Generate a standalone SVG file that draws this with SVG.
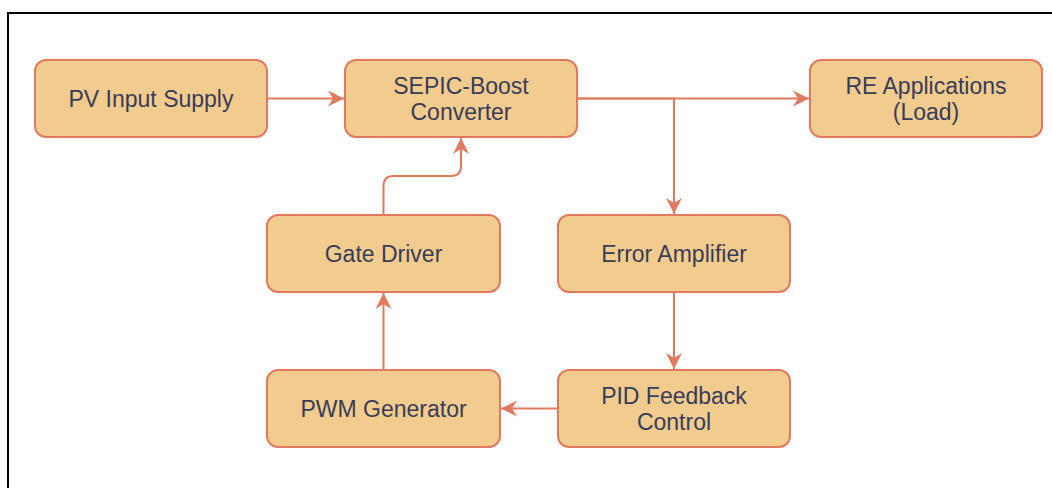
<svg xmlns="http://www.w3.org/2000/svg" width="1052" height="488" viewBox="0 0 1052 488">
  <style>
    .box { fill: #F2CC8F; stroke: #E07A5F; stroke-width: 2; }
    .lbl { font-family: "Liberation Sans", Arial, Helvetica, sans-serif; font-size: 23px; fill: #393C56; text-anchor: middle; }
    .edge { fill: none; stroke: #E07A5F; stroke-width: 2; marker-end: url(#arrow); }
  </style>
  <defs>
    <marker id="arrow" viewBox="-17 -9 18 18" refX="0" refY="0" markerWidth="18" markerHeight="18" markerUnits="userSpaceOnUse" orient="auto">
      <path d="M0,0 L-16,-8 L-11,0 L-16,8 Z" fill="#E07A5F"/>
    </marker>
  </defs>
  <rect x="0" y="0" width="1052" height="488" fill="#ffffff"/>
  <path d="M8,488 L8,13 L1052,13" fill="none" stroke="#000000" stroke-width="2"/>

  <g id="connectors">
    <path class="edge" d="M267,98.5 L344,98.5"/>
    <path class="edge" d="M577,98.5 L809,98.5"/>
    <path class="edge" d="M577,98.5 L674,98.5 L674,214"/>
    <path class="edge" d="M674,292 L674,369"/>
    <path class="edge" d="M558,408.5 L501,408.5"/>
    <path class="edge" d="M383.5,370 L383.5,293"/>
    <path class="edge" d="M383.5,215 L383.5,186 Q383.5,176 393.5,176 L451,176 Q461,176 461,166 L461,138"/>
  </g>

  <g id="pv-input">
    <rect class="box" x="35" y="60" width="232" height="77" rx="11"/>
    <text class="lbl" x="151" y="107">PV Input Supply</text>
  </g>
  <g id="sepic">
    <rect class="box" x="345" y="60" width="232" height="77" rx="11"/>
    <text class="lbl" x="461" y="93.5">SEPIC-Boost</text>
    <text class="lbl" x="461" y="119.5">Converter</text>
  </g>
  <g id="re-load">
    <rect class="box" x="810" y="60" width="232" height="77" rx="11"/>
    <text class="lbl" x="926" y="93.5">RE Applications</text>
    <text class="lbl" x="926" y="119.5">(Load)</text>
  </g>
  <g id="gate-driver">
    <rect class="box" x="267" y="215" width="233" height="77" rx="11"/>
    <text class="lbl" x="383.5" y="262">Gate Driver</text>
  </g>
  <g id="error-amp">
    <rect class="box" x="558" y="215" width="232" height="77" rx="11"/>
    <text class="lbl" x="674" y="262">Error Amplifier</text>
  </g>
  <g id="pwm">
    <rect class="box" x="267" y="370" width="233" height="77" rx="11"/>
    <text class="lbl" x="383.5" y="417">PWM Generator</text>
  </g>
  <g id="pid">
    <rect class="box" x="558" y="370" width="232" height="77" rx="11"/>
    <text class="lbl" x="674" y="403.5">PID Feedback</text>
    <text class="lbl" x="674" y="429.5">Control</text>
  </g>
</svg>
